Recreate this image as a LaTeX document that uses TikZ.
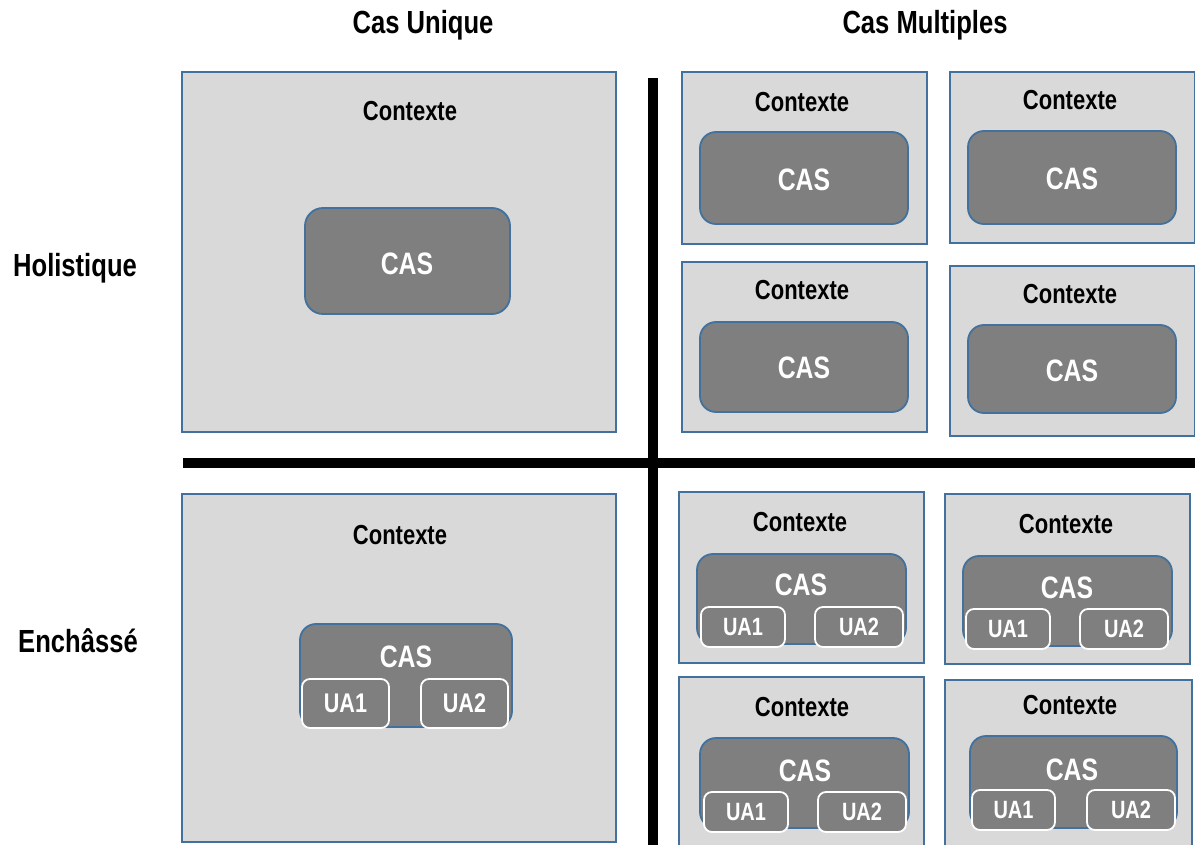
\documentclass[tikz,border=0pt]{standalone}
\usepackage{fontspec}
\setmainfont[FakeStretch=0.8]{Liberation Sans}
\usetikzlibrary{fit}
\definecolor{ctxfill}{HTML}{D9D9D9}
\definecolor{casfill}{HTML}{7F7F7F}
\definecolor{edgeblue}{HTML}{41719C}
\tikzset{
  ctx/.style={draw=edgeblue, fill=ctxfill, line width=1.4pt, inner sep=0pt},
  cas/.style={draw=edgeblue, fill=casfill, line width=1.8pt, inner sep=0pt, rounded corners=16pt},
  ua/.style={draw=white, fill=casfill, line width=1.8pt, inner sep=0pt, rounded corners=8pt},
  ctxlabel/.style={font=\bfseries\fontsize{27.5}{30}\selectfont, text=black},
  caslabel/.style={font=\bfseries\fontsize{31}{34}\selectfont, text=white},
  ualabel/.style={font=\bfseries\fontsize{25}{28}\selectfont, text=white},
  head/.style={font=\bfseries\fontsize{32}{35}\selectfont, text=black},
  divider/.style={line width=9.5pt, black}
}
\begin{document}
\begin{tikzpicture}[x=1pt,y=-1pt]
\useasboundingbox[fill=white] (0,0) rectangle (1195,845);

% headings
\node[head] (hu) at (423,25) {Cas Unique};
\node[head] (hm) at (925,25) {Cas Multiples};
\node[head] (hh) at (75,268) {Holistique};
\node[head] (he) at (78,641) {Enchâssé};

% dividers
\coordinate (vtop) at (653,78);
\coordinate (vbot) at (653,845);
\coordinate (hl) at (183,463);
\coordinate (hr) at (1195,463);
\draw[divider] (vtop) -- (vbot);
\draw[divider] (hl) -- (hr);

% ---------- Holistique, cas unique
\node[ctx, fit={(182,72) (616,432)}] (A) {};
\node[ctxlabel] (At) at (410,111) {Contexte};
\node[cas, rounded corners=18pt, fit={(305,208) (510,314)}] (Ac) {};
\node[caslabel] (Act) at (407,264) {CAS};

% ---------- Holistique, cas multiples
\node[ctx, fit={(682,72) (927,244)}] (B1) {};
\node[ctxlabel] (B1t) at (802,102) {Contexte};
\node[cas, fit={(700,132) (908,224)}] (B1c) {};
\node[caslabel] (B1ct) at (804,180) {CAS};

\node[ctx, fit={(950,72) (1195,243)}] (B2) {};
\node[ctxlabel] (B2t) at (1070,100) {Contexte};
\node[cas, fit={(968,131) (1176,224)}] (B2c) {};
\node[caslabel] (B2ct) at (1072,179) {CAS};

\node[ctx, fit={(682,262) (927,432)}] (B3) {};
\node[ctxlabel] (B3t) at (802,290) {Contexte};
\node[cas, fit={(700,322) (908,412)}] (B3c) {};
\node[caslabel] (B3ct) at (804,368) {CAS};

\node[ctx, fit={(950,266) (1195,436)}] (B4) {};
\node[ctxlabel] (B4t) at (1070,294) {Contexte};
\node[cas, fit={(968,325) (1176,413)}] (B4c) {};
\node[caslabel] (B4ct) at (1072,371) {CAS};

% ---------- Enchasse, cas unique
\node[ctx, fit={(182,494) (616,842)}] (C) {};
\node[ctxlabel] (Ct) at (400,535) {Contexte};
\node[cas, fit={(300,624) (512,727)}] (Cc) {};
\node[caslabel] (Cct) at (406,657) {CAS};
\node[ua, fit={(302,679) (389,728)}] (Cu1) {};
\node[ualabel, font=\bfseries\fontsize{27}{30}\selectfont] at (Cu1) {UA1};
\node[ua, fit={(421,679) (508,728)}] (Cu2) {};
\node[ualabel, font=\bfseries\fontsize{27}{30}\selectfont] at (Cu2) {UA2};

% ---------- Enchasse, cas multiples
\node[ctx, fit={(679,492) (924,663)}] (D1) {};
\node[ctxlabel] (D1t) at (800,522) {Contexte};
\node[cas, fit={(697,554) (906,644)}] (D1c) {};
\node[caslabel] (D1ct) at (801,585) {CAS};
\node[ua, fit={(701,607) (785,647)}] (D1u1) {};
\node[ualabel] at (D1u1) {UA1};
\node[ua, fit={(815,607) (903,647)}] (D1u2) {};
\node[ualabel] at (D1u2) {UA2};

\node[ctx, fit={(945,494) (1190,664)}] (D2) {};
\node[ctxlabel] (D2t) at (1066,524) {Contexte};
\node[cas, fit={(963,556) (1172,646)}] (D2c) {};
\node[caslabel] (D2ct) at (1067,588) {CAS};
\node[ua, fit={(966,609) (1050,649)}] (D2u1) {};
\node[ualabel] at (D2u1) {UA1};
\node[ua, fit={(1080,609) (1168,649)}] (D2u2) {};
\node[ualabel] at (D2u2) {UA2};

\node[ctx, fit={(679,677) (924,849)}] (D3) {};
\node[ctxlabel] (D3t) at (802,707) {Contexte};
\node[cas, fit={(700,738) (909,828)}] (D3c) {};
\node[caslabel] (D3ct) at (805,771) {CAS};
\node[ua, fit={(704,792) (788,832)}] (D3u1) {};
\node[ualabel] at (D3u1) {UA1};
\node[ua, fit={(818,792) (906,832)}] (D3u2) {};
\node[ualabel] at (D3u2) {UA2};

\node[ctx, fit={(945,680) (1192,849)}] (D4) {};
\node[ctxlabel] (D4t) at (1070,705) {Contexte};
\node[cas, fit={(970,736) (1177,828)}] (D4c) {};
\node[caslabel] (D4ct) at (1072,770) {CAS};
\node[ua, fit={(972,790) (1055,830)}] (D4u1) {};
\node[ualabel] at (D4u1) {UA1};
\node[ua, fit={(1087,790) (1175,830)}] (D4u2) {};
\node[ualabel] at (D4u2) {UA2};
\end{tikzpicture}
\end{document}
